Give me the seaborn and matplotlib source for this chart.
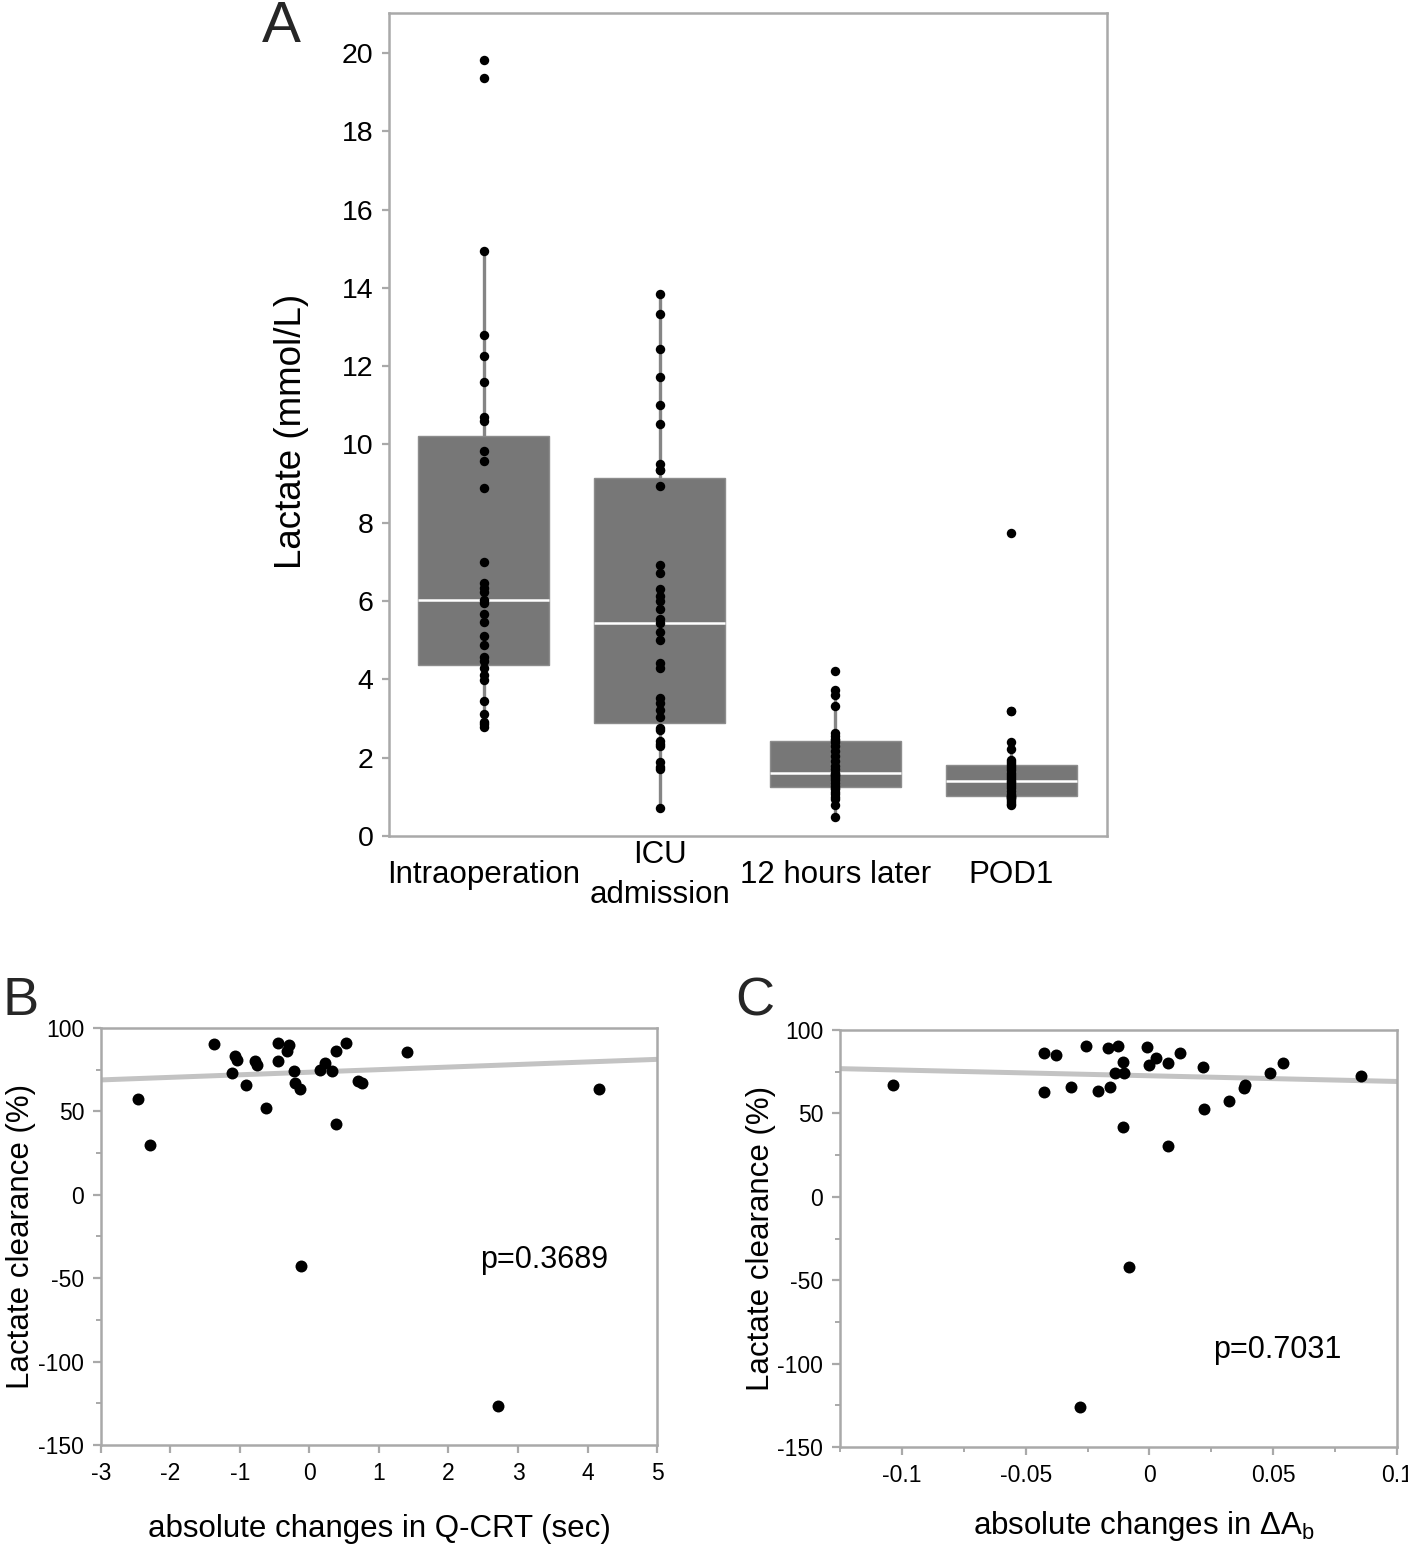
import numpy as np
import pandas as pd
import matplotlib
matplotlib.use("Agg")
import matplotlib.pyplot as plt
from matplotlib.ticker import MultipleLocator
import seaborn as sns

# ---------------- data ----------------
periods = ["Intraoperation", "ICU\nadmission", "12 hours later", "POD1"]

lactate_intraop = [19.82, 19.35, 14.94, 12.80, 12.25, 11.59, 10.70, 10.60, 9.84, 9.58,
                   8.90, 7.00, 6.45, 6.34, 6.23, 6.04, 5.95, 5.67, 5.47, 5.12, 4.89,
                   4.57, 4.46, 4.30, 4.12, 3.99, 3.44, 3.11, 2.92, 2.85, 2.78]
lactate_icu = [13.85, 13.33, 12.43, 11.73, 11.02, 10.53, 9.51, 9.34, 9.34, 8.94,
               6.91, 6.72, 6.31, 6.12, 5.99, 5.81, 5.53, 5.43, 5.21, 5.01, 4.42,
               4.29, 3.52, 3.39, 3.22, 3.03, 2.75, 2.71, 2.42, 2.35, 2.29, 1.90,
               1.75, 1.71, 0.71]
lactate_12h = [4.22, 3.74, 3.61, 3.31, 2.63, 2.55, 2.48, 2.44, 2.40, 2.30, 2.18,
               2.05, 1.92, 1.80, 1.70, 1.62, 1.59, 1.56, 1.52, 1.48, 1.42, 1.35,
               1.28, 1.22, 1.20, 1.13, 1.08, 1.00, 0.95, 0.79, 0.49]
lactate_pod1 = [7.73, 3.20, 3.20, 2.41, 2.22, 1.93, 1.88, 1.83, 1.79, 1.74, 1.68,
                1.62, 1.56, 1.50, 1.45, 1.41, 1.37, 1.33, 1.28, 1.22, 1.15, 1.08,
                1.03, 1.01, 1.00, 0.98, 0.96, 0.93, 0.88, 0.83, 0.79]

qcrt_change = [-1.38, -1.07, -1.05, -1.11, -0.91, -0.78, -0.75, -0.45, -0.29, -0.33,
               -0.45, -0.62, -0.23, -0.21, -0.14, 0.15, 0.23, 0.32, 0.38, 0.53,
               0.75, 0.70, 0.38, -2.47, -2.29, 1.40, 4.16, -0.12, 2.71]
clearance_b = [90.4, 83.3, 80.9, 72.9, 65.7, 80.3, 77.9, 90.8, 89.8, 86.3,
               80.3, 52.2, 74.3, 67.3, 63.7, 74.9, 79.3, 74.3, 86.3, 91.0,
               67.3, 68.0, 42.6, 57.2, 30.1, 85.4, 63.3, -42.8, -126.5]

dab_change = [-0.1034, -0.0426, -0.0378, -0.0425, -0.0315, -0.0256, -0.0209, -0.0166,
              -0.0159, -0.0126, -0.0105, -0.0139, -0.0101, -0.0105, -0.0011, 0.0026,
              -0.0001, 0.0074, 0.0124, 0.0074, 0.0216, 0.0219, 0.0320, 0.0381,
              0.0387, 0.0486, 0.0540, 0.0853, -0.0081, -0.0279]
clearance_c = [67.0, 86.0, 85.0, 63.0, 66.0, 90.4, 63.4, 89.0, 66.0, 90.4,
               81.0, 74.4, 74.4, 42.0, 90.0, 83.0, 79.0, 80.0, 86.0, 30.4,
               77.6, 52.4, 57.4, 65.4, 67.0, 74.0, 80.0, 72.4, -42.2, -126.2]

a_yticks = [0, 2, 4, 6, 8, 10, 12, 14, 16, 18, 20]
bc_yticks = [-150, -100, -50, 0, 50, 100]
bc_yticklabels = ["-150", "-100", "-50", "0", "50", "100"]
b_xticks = [-3, -2, -1, 0, 1, 2, 3, 4, 5]
b_xticklabels = ["-3", "-2", "-1", "0", "1", "2", "3", "4", "5"]
c_xticks = [-0.1, -0.05, 0, 0.05, 0.1]
c_xticklabels = ["-0.1", "-0.05", "0", "0.05", "0.1"]
p_b = "p=0.3689"
p_c = "p=0.7031"

# ---------------- style ----------------
sns.set_theme(style="white")
plt.rcParams["font.family"] = ["Liberation Sans", "DejaVu Sans"]
plt.rcParams["axes.unicode_minus"] = False
plt.rcParams["mathtext.fontset"] = "custom"
plt.rcParams["mathtext.rm"] = "Liberation Sans"
plt.rcParams["mathtext.it"] = "Liberation Sans:italic"
plt.rcParams["mathtext.bf"] = "Liberation Sans:bold"

SPINE = "#a9a9a9"
BOX = "#777777"

fig = plt.figure(figsize=(14.08, 15.44), dpi=100)

def frame(ax):
    for s in ax.spines.values():
        s.set_visible(True)
        s.set_color(SPINE)
        s.set_linewidth(1.8)

# ---------------- Panel A ----------------
axA = fig.add_axes([0.27628, 0.45855, 0.50994, 0.53303])
groups = [lactate_intraop, lactate_icu, lactate_12h, lactate_pod1]
df_a = pd.DataFrame({
    "period": np.concatenate([[p] * len(g) for p, g in zip(periods, groups)]),
    "lactate": np.concatenate(groups),
})
sns.boxplot(data=df_a, x="period", y="lactate", order=periods, ax=axA,
            width=0.745, color=BOX, saturation=1, showcaps=False,
            showfliers=False, whis=1.5,
            boxprops=dict(facecolor=BOX, edgecolor="#8c8c8c", linewidth=1.0),
            whiskerprops=dict(color="#858585", linewidth=2.4),
            medianprops=dict(color="white", linewidth=1.8))
sns.stripplot(data=df_a, x="period", y="lactate", order=periods, ax=axA,
              jitter=False, color="black", size=6.8, linewidth=0, zorder=4)
axA.set_xlim(-0.54, 3.545)
axA.set_ylim(0, 21.02)
axA.set_yticks(a_yticks)
axA.set_yticklabels([str(t) for t in a_yticks])
frame(axA)
axA.tick_params(axis="y", which="major", direction="out", length=5, width=1.6,
                color=SPINE, labelsize=20.5, pad=6, left=True, labelcolor="black")
axA.tick_params(axis="x", length=0, labelsize=22.5, pad=28, labelcolor="black")
for t in axA.get_xticklabels():
    t.set_va("center")
    t.set_linespacing(1.45)
axA.set_xlabel("")
axA.set_ylabel("Lactate (mmol/L)", fontsize=26.5, color="black")
axA.yaxis.set_label_coords(-0.111, 0.492)

# ---------------- Panel B ----------------
axB = fig.add_axes([0.07173, 0.06412, 0.39489, 0.27008])
axB.set_xlim(-3, 5)
axB.set_ylim(-150, 100)
df_b = pd.DataFrame({"x": qcrt_change, "y": clearance_b})
sns.regplot(data=df_b[df_b["y"] >= 0], x="x", y="y", ax=axB, scatter=False,
            ci=None, truncate=False,
            line_kws=dict(color="#c3c3c3", linewidth=3.6, zorder=2))
sns.scatterplot(data=df_b, x="x", y="y", ax=axB, color="black", s=74,
                linewidth=0, zorder=3)
axB.set_xlim(-3, 5)
axB.set_ylim(-150, 100)
axB.set_xticks(b_xticks)
axB.set_xticklabels(b_xticklabels)
axB.set_yticks(bc_yticks)
axB.set_yticklabels(bc_yticklabels)
axB.yaxis.set_minor_locator(MultipleLocator(25))
frame(axB)
axB.tick_params(axis="both", which="major", direction="out", length=6, width=1.6,
                color=SPINE, labelsize=16.5, pad=6, labelcolor="black",
                left=True, bottom=True)
axB.tick_params(axis="y", which="minor", direction="out", length=3.5, width=1.4,
                color=SPINE, left=True)
axB.set_xlabel("absolute changes in Q-CRT (sec)", fontsize=22.5, color="black")
axB.set_ylabel("Lactate clearance (%)", fontsize=22.5, color="black")
axB.xaxis.set_label_coords(0.5, -0.165)
axB.yaxis.set_label_coords(-0.117, 0.5)
axB.text(2.45, -39, p_b, fontsize=22, va="center", ha="left", color="black")

# ---------------- Panel C ----------------
axC = fig.add_axes([0.59659, 0.06282, 0.39560, 0.27008])
axC.set_xlim(-0.125, 0.1)
axC.set_ylim(-150, 100)
df_c = pd.DataFrame({"x": dab_change, "y": clearance_c})
sns.regplot(data=df_c[df_c["y"] >= 0], x="x", y="y", ax=axC, scatter=False,
            ci=None, truncate=False,
            line_kws=dict(color="#c3c3c3", linewidth=3.6, zorder=2))
sns.scatterplot(data=df_c, x="x", y="y", ax=axC, color="black", s=74,
                linewidth=0, zorder=3)
axC.set_xlim(-0.125, 0.1)
axC.set_ylim(-150, 100)
axC.set_xticks(c_xticks)
axC.set_xticklabels(c_xticklabels)
axC.xaxis.set_minor_locator(MultipleLocator(0.025))
axC.set_yticks(bc_yticks)
axC.set_yticklabels(bc_yticklabels)
axC.yaxis.set_minor_locator(MultipleLocator(25))
frame(axC)
axC.tick_params(axis="both", which="major", direction="out", length=6, width=1.6,
                color=SPINE, labelsize=16.5, pad=6, labelcolor="black",
                left=True, bottom=True)
axC.tick_params(axis="both", which="minor", direction="out", length=3.5, width=1.4,
                color=SPINE, left=True, bottom=True)
axC.set_xlabel(r"absolute changes in ΔA$_{\mathrm{b}}$", fontsize=22.5, color="black")
axC.set_ylabel("Lactate clearance (%)", fontsize=22.5, color="black")
axC.xaxis.set_label_coords(0.546, -0.148)
axC.yaxis.set_label_coords(-0.115, 0.5)
axC.text(0.0259, -92, p_c, fontsize=22, va="center", ha="left", color="black")

# ---------------- panel letters ----------------
fig.text(0.186, 0.9728, "A", fontsize=42, va="baseline", ha="left")
fig.text(0.0015, 0.3426, "B", fontsize=39, va="baseline", ha="left")
fig.text(0.522, 0.3426, "C", fontsize=39, va="baseline", ha="left")

fig.savefig("out.png", dpi=100)
